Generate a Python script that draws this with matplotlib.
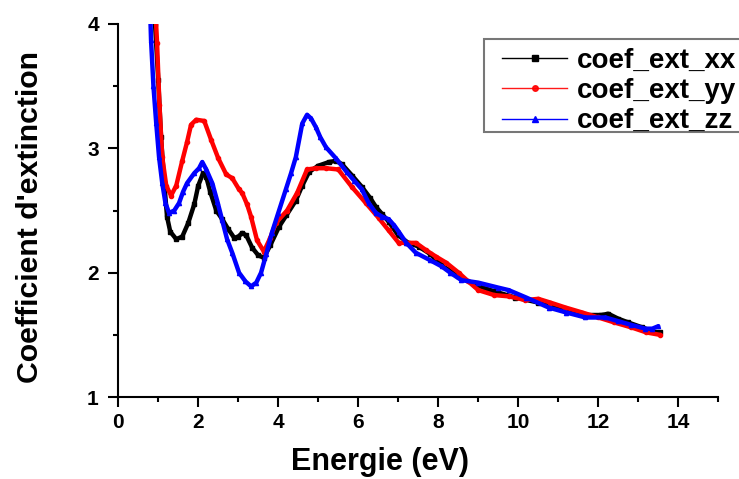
import matplotlib
matplotlib.use("Agg")
import matplotlib.pyplot as plt
from matplotlib.lines import Line2D
from matplotlib.patches import Rectangle
from matplotlib.ticker import MultipleLocator

# --- data ---
x_xx = [0.88, 0.92, 1.0, 1.07, 1.15, 1.22, 1.3, 1.45, 1.6, 1.75, 1.9, 2.0, 2.12, 2.2, 2.3,
        2.45, 2.6, 2.75, 2.9, 3.0, 3.1, 3.2, 3.35, 3.5, 3.64, 3.8, 4.02, 4.2, 4.44, 4.6,
        4.77, 5.0, 5.27, 5.45, 5.6, 5.85, 6.09, 6.3, 6.44, 6.6, 6.76, 7.0, 7.25, 7.51,
        7.8, 8.09, 8.5, 8.93, 9.4, 9.93, 10.5, 11.18, 11.7, 12.08, 12.25, 12.5, 12.75,
        13.1, 13.43, 13.55]
y_xx = [4.3, 4.0, 3.55, 3.09, 2.72, 2.45, 2.33, 2.27, 2.29, 2.40, 2.55, 2.70, 2.80, 2.77, 2.65,
        2.50, 2.43, 2.35, 2.28, 2.29, 2.32, 2.30, 2.20, 2.14, 2.12, 2.22, 2.37, 2.46, 2.58, 2.70,
        2.81, 2.86, 2.89, 2.90, 2.87, 2.78, 2.69, 2.60, 2.53, 2.47, 2.41, 2.30, 2.24, 2.21,
        2.15, 2.06, 1.97, 1.90, 1.85, 1.80, 1.76, 1.70, 1.66, 1.66, 1.67, 1.63, 1.60,
        1.56, 1.52, 1.52]

x_yy = [0.9, 0.97, 1.03, 1.1, 1.2, 1.32, 1.45, 1.6, 1.72, 1.82, 1.95, 2.15, 2.32, 2.5, 2.7,
        2.85, 3.02, 3.1, 3.22, 3.32, 3.47, 3.64, 3.8, 3.94, 4.22, 4.47, 4.72, 4.94, 5.2, 5.5,
        5.84, 6.19, 6.51, 6.76, 7.01, 7.2, 7.44, 7.7, 7.94, 8.2, 8.51, 8.75, 9.0, 9.4, 9.76,
        10.18, 10.5, 10.8, 11.18, 11.6, 12.0, 12.4, 12.83, 13.2, 13.55]
y_yy = [4.3, 3.85, 3.35, 2.93, 2.70, 2.62, 2.70, 2.90, 3.05, 3.19, 3.23, 3.22, 3.07, 2.92, 2.79,
        2.76, 2.67, 2.64, 2.55, 2.45, 2.26, 2.17, 2.28, 2.40, 2.50, 2.64, 2.83, 2.84, 2.84, 2.83,
        2.69, 2.56, 2.44, 2.34, 2.24, 2.24, 2.24, 2.18, 2.13, 2.08, 2.00, 1.93, 1.86, 1.82, 1.81,
        1.78, 1.79, 1.76, 1.72, 1.68, 1.64, 1.60, 1.56, 1.52, 1.50]

x_zz = [0.78, 0.82, 0.88, 0.95, 1.02, 1.1, 1.18, 1.27, 1.4, 1.52, 1.62, 1.72, 1.9, 2.02, 2.1,
        2.2, 2.35, 2.48, 2.6, 2.72, 2.85, 3.02, 3.18, 3.32, 3.45, 3.57, 3.7, 3.84, 4.0, 4.19,
        4.32, 4.44, 4.6, 4.72, 4.82, 4.94, 5.05, 5.19, 5.44, 5.71, 5.9, 6.09, 6.26, 6.44, 6.6,
        6.76, 6.9, 7.01, 7.2, 7.44, 7.8, 8.09, 8.3, 8.58, 9.0, 9.5, 9.76, 10.2, 10.76, 11.2,
        11.68, 12.18, 12.5, 12.83, 13.18, 13.35, 13.5]
y_zz = [4.3, 3.87, 3.5, 3.2, 2.93, 2.72, 2.56, 2.48, 2.50, 2.56, 2.65, 2.72, 2.80, 2.84, 2.89,
        2.83, 2.72, 2.57, 2.42, 2.27, 2.16, 2.00, 1.93, 1.89, 1.92, 2.00, 2.15, 2.32, 2.48, 2.67,
        2.80, 2.93, 3.20, 3.27, 3.24, 3.17, 3.09, 3.01, 2.92, 2.81, 2.74, 2.67, 2.56, 2.48, 2.45,
        2.43, 2.38, 2.33, 2.24, 2.16, 2.10, 2.05, 2.00, 1.94, 1.92, 1.88, 1.86, 1.80, 1.72, 1.68,
        1.64, 1.64, 1.61, 1.58, 1.55, 1.55, 1.57]

labels = ["coef_ext_xx", "coef_ext_yy", "coef_ext_zz"]
colors = ["#000000", "#ff0000", "#0000ff"]
markers = ["s", "o", "^"]

plt.rcParams['font.family'] = ['Liberation Sans', 'DejaVu Sans']
plt.rcParams['font.weight'] = 'bold'

W, H = 739, 479
fig = plt.figure(figsize=(W / 100, H / 100), dpi=100)
ax = fig.add_axes([0.160, 0.171, 0.812, 0.779])

series = [(x_xx, y_xx), (x_yy, y_yy), (x_zz, y_zz)]
for (xs, ys), c, m in zip(series, colors, markers):
    ax.plot(xs, ys, color=c, lw=3.2, marker=m, ms=3, mec=c, mfc=c,
            solid_capstyle='round', solid_joinstyle='round', clip_on=True)

ax.set_xlim(0, 15)
ax.set_ylim(1, 4)
ax.xaxis.set_major_locator(MultipleLocator(2))
ax.xaxis.set_minor_locator(MultipleLocator(1))
ax.yaxis.set_major_locator(MultipleLocator(1))
ax.yaxis.set_minor_locator(MultipleLocator(0.5))

for s in ['top', 'right']:
    ax.spines[s].set_visible(False)
for s in ['left', 'bottom']:
    ax.spines[s].set_linewidth(1.5)

ax.tick_params(which='major', direction='out', length=7, width=1.5, labelsize=15)
ax.tick_params(which='minor', direction='out', length=3.5, width=1.5)
ax.tick_params(axis='x', which='major', pad=4.5)
ax.tick_params(axis='y', which='major', pad=7)
for lab in ax.get_xticklabels() + ax.get_yticklabels():
    lab.set_fontweight('bold')

ax.set_xlabel("Energie (eV)", fontsize=22, fontweight='bold', va='center')
ax.set_ylabel("Coefficient d'extinction", fontsize=21.8, fontweight='bold', va='center')
ax.xaxis.set_label_coords(0.437, -0.174)
ax.yaxis.set_label_coords(-0.147, 0.483)

# legend frame (extends past the right edge, as in the reference)
frame = Rectangle((484 / W, 1 - 132 / H), (760 - 484) / W, (132 - 39) / H,
                  transform=fig.transFigure, facecolor='white', edgecolor='#777777',
                  lw=1.5, zorder=4)
fig.add_artist(frame)

handles = [Line2D([], [], color=c, lw=1, marker=m, ms=4, mec=c, mfc=c)
           for c, m in zip(colors, markers)]
handles[1].set_alpha(0.9)
leg = fig.legend(handles, labels, loc='upper left',
                 bbox_to_anchor=(502 / W, 1 - 48 / H), bbox_transform=fig.transFigure,
                 frameon=False, handlelength=2.35, handletextpad=0.36,
                 labelspacing=0.15, borderpad=0.0, borderaxespad=0, numpoints=1,
                 prop={'weight': 'bold', 'size': 20})
leg.set_zorder(5)

fig.savefig("out.png", dpi=100)
